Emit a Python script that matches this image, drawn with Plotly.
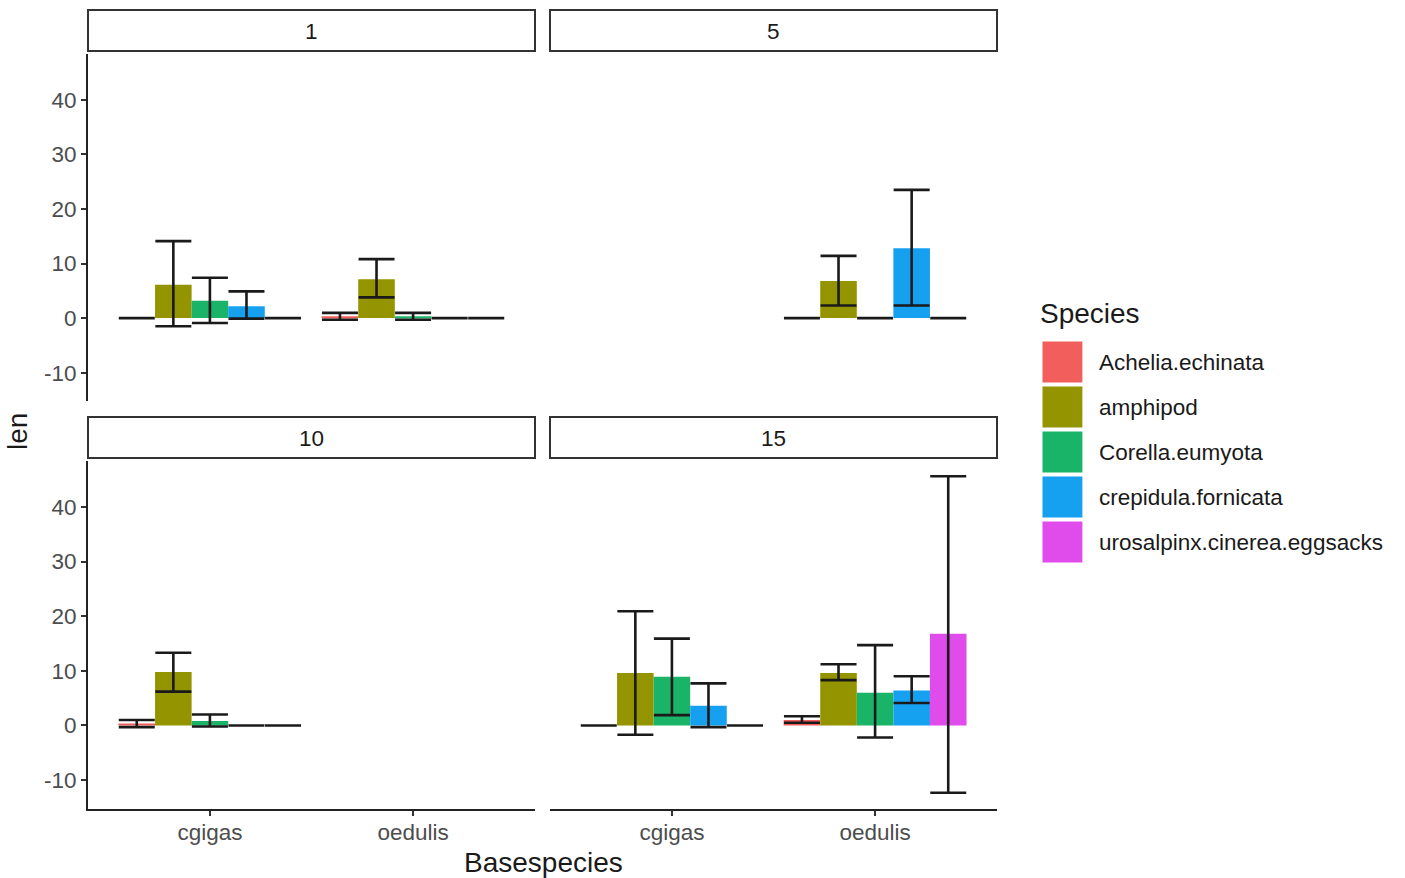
import plotly.graph_objects as go

W, H = 1405, 878

# ---------------- data ----------------
species = ['Achelia.echinata', 'amphipod', 'Corella.eumyota',
           'crepidula.fornicata', 'urosalpinx.cinerea.eggsacks']
colors = ['#F25E5B', '#949400', '#1AB469', '#16A0F0', '#E04BEC']
basespecies = ['cgigas', 'oedulis']
panels = ['1', '5', '10', '15']
y_ticks = [-10, 0, 10, 20, 30, 40]
y_ticklabels = ['-10', '0', '10', '20', '30', '40']

# rows = species, columns = [cgigas, oedulis]
mean_1 = [[0, 0.33], [6.1, 7.1], [3.2, 0.33], [2.15, 0], [0, 0]]
lo_1 = [[0, -0.3], [-1.5, 3.8], [-0.9, -0.3], [-0.1, 0], [0, 0]]
hi_1 = [[0, 0.95], [14.1, 10.8], [7.4, 0.95], [4.9, 0], [0, 0]]

mean_5 = [[None, 0], [None, 6.8], [None, 0], [None, 12.8], [None, 0]]
lo_5 = [[None, 0], [None, 2.3], [None, 0], [None, 2.3], [None, 0]]
hi_5 = [[None, 0], [None, 11.4], [None, 0], [None, 23.5], [None, 0]]

mean_10 = [[0.33, None], [9.8, None], [0.8, None], [0, None], [0, None]]
lo_10 = [[-0.3, None], [6.2, None], [-0.2, None], [0, None], [0, None]]
hi_10 = [[1.0, None], [13.3, None], [2.0, None], [0, None], [0, None]]

mean_15 = [[0, 1.0], [9.6, 9.6], [8.9, 6.0], [3.6, 6.4], [0, 16.8]]
lo_15 = [[0, 0.5], [-1.7, 8.3], [1.9, -2.2], [-0.3, 4.1], [0, -12.3]]
hi_15 = [[0, 1.7], [20.9, 11.2], [15.9, 14.7], [7.7, 9.0], [0, 45.6]]

panel_data = [(mean_1, lo_1, hi_1), (mean_5, lo_5, hi_5),
              (mean_10, lo_10, hi_10), (mean_15, lo_15, hi_15)]

# ---------------- layout geometry (pixels) ----------------
col_x = [(88, 535), (550, 997)]
row_y = [(53.5, 401), (460.5, 808.5)]
strip_y = [(10, 51), (417, 458)]

FONT = 'Liberation Sans, Arial, sans-serif'
SMALL = 22.5
BIG = 28

# y range with ggplot-like 5% expansion
all_vals = [0]
for m, lo, hi in panel_data:
    for arr in (lo, hi):
        for row in arr:
            all_vals += [v for v in row if v is not None]
ymin, ymax = min(all_vals), max(all_vals)
pad = 0.05 * (ymax - ymin)
y_range = [ymin - pad, ymax + pad]

fig = go.Figure()

for p, (m, lo, hi) in enumerate(panel_data):
    ax = '' if p == 0 else str(p + 1)
    for s, sp in enumerate(species):
        ys = m[s]
        plus = [None if v is None else h - v for v, h in zip(ys, hi[s])]
        minus = [None if v is None else v - l for v, l in zip(ys, lo[s])]
        fig.add_trace(go.Bar(
            x=basespecies, y=ys, name=sp, showlegend=False,
            marker=dict(color=colors[s], line=dict(width=0)),
            error_y=dict(type='data', array=plus, arrayminus=minus,
                         symmetric=False, color='#1a1a1a', thickness=2.6,
                         width=18, visible=True),
            xaxis='x' + ax, yaxis='y' + ax, hoverinfo='skip'))

layout = dict(width=W, height=H, margin=dict(l=0, r=0, t=0, b=0),
              paper_bgcolor='white', plot_bgcolor='white',
              barmode='group', bargap=0.1, bargroupgap=0,
              font=dict(family=FONT, color='#1a1a1a'))

shapes = []
annotations = []
for p in range(4):
    r, c = divmod(p, 2)
    ax = '' if p == 0 else str(p + 1)
    x0, x1 = col_x[c]
    y0, y1 = row_y[r]
    xa = dict(domain=[x0 / W, x1 / W], anchor='y' + ax,
              type='category', categoryorder='array', categoryarray=basespecies,
              range=[-0.6, 1.6], showgrid=False, zeroline=False, fixedrange=True)
    if r == 1:
        xa.update(showline=True, linecolor='#222222', linewidth=2,
                  ticks='outside', ticklen=5, tickwidth=2, tickcolor='#333333',
                  showticklabels=True, ticklabelstandoff=-3,
                  tickfont=dict(size=SMALL, color='#4d4d4d'))
    else:
        xa.update(showline=False, ticks='', showticklabels=False)
    ya = dict(domain=[1 - y1 / H, 1 - y0 / H], anchor='x' + ax,
              range=y_range, showgrid=False, zeroline=False, fixedrange=True,
              tickmode='array', tickvals=y_ticks, ticktext=y_ticklabels)
    if c == 0:
        ya.update(showline=True, linecolor='#222222', linewidth=2,
                  ticks='outside', ticklen=5, tickwidth=2, tickcolor='#333333',
                  showticklabels=True, tickfont=dict(size=SMALL, color='#4d4d4d'))
    else:
        ya.update(showline=False, ticks='', showticklabels=False)
    layout['xaxis' + ax] = xa
    layout['yaxis' + ax] = ya

    sy0, sy1 = strip_y[r]
    shapes.append(dict(type='rect', xref='paper', yref='paper',
                       x0=x0 / W, x1=x1 / W, y0=1 - sy1 / H, y1=1 - sy0 / H,
                       line=dict(color='#333333', width=2), fillcolor='white',
                       layer='above'))
    annotations.append(dict(text=panels[p], xref='paper', yref='paper',
                            x=(x0 + x1) / 2 / W, y=1 - ((sy0 + sy1) / 2 + 1) / H,
                            showarrow=False, xanchor='center', yanchor='middle',
                            font=dict(size=SMALL, color='#1a1a1a')))

# axis titles
annotations.append(dict(text='Basespecies', xref='paper', yref='paper',
                        x=543 / W, y=1 - 862 / H, showarrow=False,
                        xanchor='center', yanchor='middle',
                        font=dict(size=BIG, color='#1a1a1a')))
annotations.append(dict(text='len', xref='paper', yref='paper',
                        x=18 / W, y=1 - 432 / H, showarrow=False, textangle=-90,
                        xanchor='center', yanchor='middle',
                        font=dict(size=BIG, color='#1a1a1a')))

# ---------------- custom legend ----------------
KEY = 41
STEP = 45
leg_top = 339.5
layout['xaxis5'] = dict(domain=[1042.5 / W, 1400 / W], range=[-20.5, 357.5],
                        visible=False, fixedrange=True, anchor='y5')
layout['yaxis5'] = dict(domain=[1 - (leg_top + STEP * len(species)) / H, 1 - leg_top / H],
                        range=[len(species) - 0.5, -0.5], visible=False,
                        fixedrange=True, anchor='x5')
fig.add_trace(go.Scatter(
    x=[0] * len(species), y=list(range(len(species))), mode='markers',
    marker=dict(symbol='square', size=KEY, color=colors, line=dict(width=0)),
    xaxis='x5', yaxis='y5', showlegend=False, hoverinfo='skip'))
for i, sp in enumerate(species):
    annotations.append(dict(text=sp, xref='x5', yref='y5', x=37, y=i,
                            showarrow=False, xanchor='left', yanchor='middle',
                            font=dict(size=SMALL, color='#1a1a1a')))
annotations.append(dict(text='Species', xref='paper', yref='paper',
                        x=1038 / W, y=1 - 313 / H, showarrow=False,
                        xanchor='left', yanchor='middle',
                        font=dict(size=BIG, color='#1a1a1a')))

layout['shapes'] = shapes
layout['annotations'] = annotations
fig.update_layout(**layout)

fig.write_html('out.html', config={'displayModeBar': False},
               post_script="document.body.style.margin='0';"
                           "document.body.style.overflow='hidden';")
